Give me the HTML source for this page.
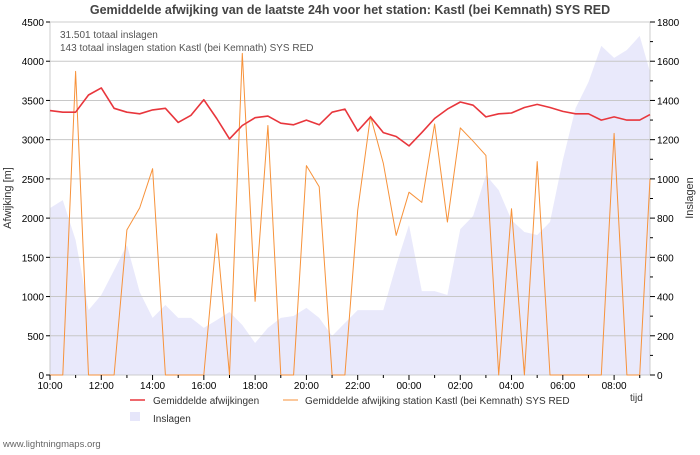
<!DOCTYPE html>
<html><head><meta charset="utf-8"><style>
body{margin:0;background:#fff;}
svg text{font-family:"Liberation Sans","DejaVu Sans",sans-serif;}
</style></head><body>
<svg id="s" width="700" height="450" xmlns="http://www.w3.org/2000/svg">
<rect width="700" height="450" fill="#fff"/>
<text x="350" y="14" text-anchor="middle" font-size="12.5" font-weight="bold" fill="#444">Gemiddelde afwijking van de laatste 24h voor het station: Kastl (bei Kemnath) SYS RED</text>
<g id="area"></g>
<g id="grid"></g>
<rect x="50" y="22" width="600" height="353" fill="none" stroke="#ccc"/>
<g id="lines"></g>
<g id="ticks" font-size="10" fill="#000"></g>
<text x="60" y="38" font-size="10" fill="#555">31.501 totaal inslagen</text>
<text x="60" y="51" font-size="10" fill="#555">143 totaal inslagen station Kastl (bei Kemnath) SYS RED</text>
<text x="11" y="198" font-size="11" fill="#333" text-anchor="middle" transform="rotate(-90 11 198)">Afwijking  [m]</text>
<text x="693" y="198" font-size="11" fill="#333" text-anchor="middle" transform="rotate(-90 693 198)">Inslagen</text>
<text x="630" y="401" font-size="10" fill="#333">tijd</text>
<line x1="130" y1="400" x2="145" y2="400" stroke="#e8363c" stroke-width="1.5"/>
<text x="153" y="404" font-size="10" fill="#333">Gemiddelde afwijkingen</text>
<line x1="283" y1="400" x2="298" y2="400" stroke="#f7923a" stroke-width="1"/>
<text x="305" y="404" font-size="10" fill="#333">Gemiddelde afwijking station Kastl (bei Kemnath) SYS RED</text>
<rect x="130" y="412" width="10" height="9" fill="#e6e6fa"/>
<text x="153" y="422" font-size="10" fill="#333">Inslagen</text>
<text x="3" y="447" font-size="9.5" fill="#666">www.lightningmaps.org</text>
</svg>
<script>
var NS="http://www.w3.org/2000/svg";
function el(p,t,a){var e=document.createElementNS(NS,t);for(var k in a)e.setAttribute(k,a[k]);document.getElementById(p).appendChild(e);return e;}
var red=[3370,3350,3350,3570,3660,3400,3350,3330,3380,3400,3220,3310,3510,3270,3010,3180,3280,3300,3210,3190,3250,3190,3350,3390,3110,3290,3090,3040,2920,3090,3270,3390,3480,3440,3290,3330,3340,3410,3450,3410,3360,3330,3330,3250,3290,3250,3250,3320];
var org=[0,0,3870,0,0,0,1850,2130,2630,0,0,0,0,1800,0,4100,940,3180,0,0,2670,2400,0,0,2100,3300,2700,1780,2330,2200,3200,1950,3150,2980,2800,0,2120,0,2720,0,0,0,0,0,3080,0,0,2500];
var ar=[851,892,688,331,408,535,663,423,291,357,291,291,240,280,321,255,163,240,291,301,342,291,199,265,331,331,331,561,765,428,428,408,744,811,1020,943,790,729,714,780,1096,1361,1494,1678,1617,1657,1729,1545];
function X(i){return 50+i*600/46.8;}
function Y(v){return 375-v*353/4500;}
function Y2(v){return 375-v*353/1800;}
var d="M50 375";ar.forEach(function(v,i){d+=" L"+Math.min(X(i),650).toFixed(1)+" "+Y2(v).toFixed(1);});d+=" L650 375Z";
el("area","path",{d:d,fill:"#e9e9fb"});
for(var v=500;v<=4500;v+=500)el("grid","line",{x1:50,x2:650,y1:Y(v),y2:Y(v),stroke:"#c8c8c8"});
function pl(a,c,w){var p=a.map(function(v,i){return Math.min(X(i),650).toFixed(1)+","+Y(v).toFixed(1);}).join(" ");el("lines","polyline",{points:p,fill:"none",stroke:c,"stroke-width":w,"stroke-linejoin":"round"});}
pl(org,"#f7923a",1);pl(red,"#e8363c",1.6);
for(var v=0;v<=4500;v+=500){var t=el("ticks","text",{x:44,y:Y(v)+4,"text-anchor":"end"});t.textContent=v;el("ticks","line",{x1:46,x2:50,y1:Y(v),y2:Y(v),stroke:"#000"});}
for(var v=0;v<=1800;v+=100){el("ticks","line",{x1:650,x2:v%200?653:655,y1:Y2(v),y2:Y2(v),stroke:"#000"});if(v%200==0){var t=el("ticks","text",{x:657,y:Y2(v)+4});t.textContent=v;}}
var labs=["10:00","12:00","14:00","16:00","18:00","20:00","22:00","00:00","02:00","04:00","06:00","08:00"];
for(var h=0;h<24;h++){var x=X(2*h);el("ticks","line",{x1:x,x2:x,y1:375,y2:h%2?378:380,stroke:"#000"});if(h%2==0){var t=el("ticks","text",{x:x,y:389,"text-anchor":"middle"});t.textContent=labs[h/2];}}
</script>
</body></html>
